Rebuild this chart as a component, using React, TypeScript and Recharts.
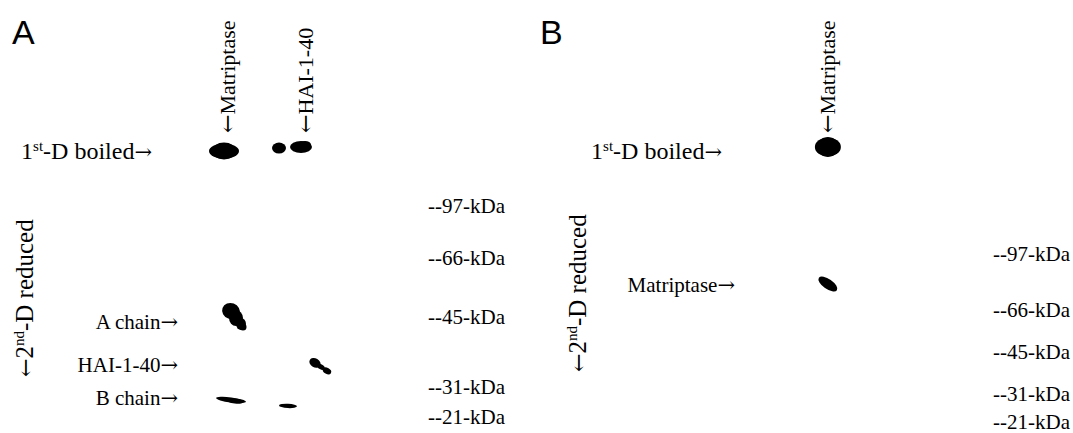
import React from "react";
import { ScatterChart, Scatter, XAxis, YAxis } from "recharts";

const SERIF = '"Liberation Serif", "Times New Roman", Times, serif';
const ARROW = '"DejaVu Serif", "DejaVu Sans", serif';
const SANS = '"Liberation Sans", Arial, Helvetica, sans-serif';

// x = position along the 1st-D strip (% of plot width), y = migration in 2nd-D (% of plot height)
const lanesA = [
  { name: "Matriptase", x: 20 },
  { name: "HAI-1-40", x: 51.2 },
];
const rowsA = [
  { name: "1st-D boiled", y: 5.7 },
  { name: "A chain", y: 62.8 },
  { name: "HAI-1-40", y: 77.2 },
  { name: "B chain", y: 88.3 },
];
const markersA = [
  { kda: 97, y: 23.8 },
  { kda: 66, y: 41.3 },
  { kda: 45, y: 61.1 },
  { kda: 31, y: 84.6 },
  { kda: 21, y: 94.6 },
];
const spotsA = [
  { id: "aMat1", x: 18.4, y: 5.4 },
  { id: "aHaiL", x: 40.4, y: 4.4 },
  { id: "aHaiR", x: 49.2, y: 4.0 },
  { id: "aChainA", x: 22.8, y: 61.1 },
  { id: "aHai2", x: 56.8, y: 77.5 },
  { id: "aChainB1", x: 21.2, y: 88.9 },
  { id: "aChainB2", x: 44.0, y: 90.9 },
];

const lanesB = [{ name: "Matriptase", x: 36.0 }];
const rowsB = [
  { name: "1st-D boiled", y: 5.7 },
  { name: "Matriptase", y: 50.3 },
];
const markersB = [
  { kda: 97, y: 39.9 },
  { kda: 66, y: 58.7 },
  { kda: 45, y: 72.8 },
  { kda: 31, y: 86.9 },
  { kda: 21, y: 96.3 },
];
const spotsB = [
  { id: "bMat1", x: 36.0, y: 4.0 },
  { id: "bMat2", x: 36.0, y: 50.0 },
];

// blob outlines: [dx, dy, rx, ry, rotation]
const SHAPES: Record<string, number[][]> = {
  aMat1: [[0, 0, 15, 7.5, 0], [0, 0, 12, 8.5, 0]],
  aHaiL: [[0, 0, 7, 5.5, 0]],
  aHaiR: [[0, 0, 11, 6, 0], [4, -2, 6, 4, 0]],
  aChainA: [[-4, -6, 9, 8, 20], [1, 1, 7, 8, 0], [6, 7, 5, 6, 0], [8, 10, 3.5, 3.5, 0]],
  aHai2: [[-5, -3, 6, 4.5, 30], [1, 1, 4, 2.5, 30], [7, 5, 4.5, 3, 30]],
  aChainB1: [[0, 0, 15, 2.5, 7], [4, 1, 9, 2.5, 7]],
  aChainB2: [[0, 0, 9, 2.2, 3]],
  bMat1: [[0, 0, 13, 9.5, 0], [0, 0, 11, 10, 0]],
  bMat2: [[0, 0, 11, 5, 35]],
};

const near = (a: number, b: number) => Math.abs(a - b) < 0.01;

const Blob = (props: any) => {
  const { cx, cy, payload } = props;
  const parts = SHAPES[payload.id] || [[0, 0, 5, 5, 0]];
  return (
    <g>
      {parts.map(([dx, dy, rx, ry, rot], i) => (
        <ellipse
          key={i}
          cx={cx + dx}
          cy={cy + dy}
          rx={rx}
          ry={ry}
          fill="#000"
          transform={`rotate(${rot} ${cx + dx} ${cy + dy})`}
        />
      ))}
    </g>
  );
};

const Empty = () => <g />;

const LaneTick = (props: any) => {
  const { x, y, payload, lanes } = props;
  const lane = lanes.find((l: any) => near(l.x, payload.value));
  if (!lane) return null;
  return (
    <text
      transform={`translate(${x},${y}) rotate(-90)`}
      x={0}
      y={7}
      textAnchor="start"
      fontFamily={SERIF}
      fontSize={22}
      fill="#000"
    >
      <tspan fontFamily={ARROW}>{"\u2190"}</tspan>
      <tspan>{lane.name}</tspan>
    </text>
  );
};

const RowTick = (props: any) => {
  const { x, y, payload, rows, firstShift } = props;
  const row = rows.find((r: any) => near(r.y, payload.value));
  if (!row) return null;
  const first = row.name.startsWith("1st");
  return (
    <text
      x={x + (first ? firstShift : 0)}
      y={y + 7}
      textAnchor="end"
      fontFamily={SERIF}
      fontSize={first ? 24 : 21}
      fill="#000"
    >
      {first ? (
        <>
          <tspan>1</tspan>
          <tspan fontSize={15} dy={-8}>st</tspan>
          <tspan dy={8}>-D boiled</tspan>
        </>
      ) : (
        <tspan>{row.name}</tspan>
      )}
      <tspan fontFamily={ARROW} fontSize={21}>{"\u2192"}</tspan>
    </text>
  );
};

const KdaTick = (props: any) => {
  const { x, y, payload, markers } = props;
  const m = markers.find((k: any) => near(k.y, payload.value));
  if (!m) return null;
  return (
    <text x={x} y={y + 7} textAnchor="start" fontFamily={SERIF} fontSize={21} fill="#000">
      {`--${m.kda}-kDa`}
    </text>
  );
};

const SideLabel = ({ sx, sy }: { sx: number; sy: number }) => (
  <text
    transform={`translate(${sx},${sy}) rotate(-90)`}
    x={0}
    y={8}
    textAnchor="start"
    fontFamily={SERIF}
    fontSize={25}
    fill="#000"
  >
    <tspan fontFamily={ARROW} fontSize={22}>{"\u2190"}</tspan>
    <tspan>2</tspan>
    <tspan fontSize={15} dy={-9}>nd</tspan>
    <tspan dy={9}>-D reduced</tspan>
  </text>
);

function GelPanel({ width, leftW, rightW, lanes, rows, markers, spots, firstShift, side }: any) {
  const markerPts = markers.map((m: any) => ({ x: 100, y: m.y }));
  return (
    <ScatterChart width={width} height={433} margin={{ top: 0, right: 0, bottom: 0, left: 0 }}>
      <XAxis
        xAxisId="lane"
        type="number"
        dataKey="x"
        orientation="top"
        domain={[0, 100]}
        ticks={lanes.map((l: any) => l.x)}
        height={135}
        axisLine={false}
        tickLine={false}
        tickSize={0}
        tickMargin={2}
        interval={0}
        tick={<LaneTick lanes={lanes} />}
      />
      <YAxis
        yAxisId="mig"
        type="number"
        dataKey="y"
        orientation="left"
        domain={[0, 100]}
        reversed
        width={leftW}
        ticks={rows.map((r: any) => r.y)}
        axisLine={false}
        tickLine={false}
        tickSize={0}
        tickMargin={0}
        interval={0}
        tick={<RowTick rows={rows} firstShift={firstShift} />}
        label={{ content: () => <SideLabel sx={side[0]} sy={side[1]} /> }}
      />
      <YAxis
        yAxisId="kda"
        type="number"
        dataKey="y"
        orientation="right"
        domain={[0, 100]}
        reversed
        width={rightW}
        ticks={markers.map((m: any) => m.y)}
        axisLine={false}
        tickLine={false}
        tickSize={0}
        tickMargin={0}
        interval={0}
        tick={<KdaTick markers={markers} />}
      />
      <Scatter xAxisId="lane" yAxisId="kda" data={markerPts} shape={Empty} isAnimationActive={false} />
      <Scatter xAxisId="lane" yAxisId="mig" data={spots} shape={Blob} isAnimationActive={false} />
    </ScatterChart>
  );
}

const letterStyle: React.CSSProperties = {
  position: "absolute",
  top: 15,
  fontFamily: SANS,
  fontSize: 34,
  lineHeight: "34px",
  color: "#000",
};

export default function App() {
  return (
    <div style={{ position: "absolute", left: 0, top: 0, width: 1073, height: 433, background: "#fff" }}>
      <div style={{ position: "absolute", left: 0, top: 0 }}>
        <GelPanel
          width={536}
          leftW={178}
          rightW={108}
          lanes={lanesA}
          rows={rowsA}
          markers={markersA}
          spots={spotsA}
          firstShift={-26}
          side={[25, 377]}
        />
      </div>
      <div style={{ position: "absolute", left: 536, top: 0 }}>
        <GelPanel
          width={537}
          leftW={199}
          rightW={80}
          lanes={lanesB}
          rows={rowsB}
          markers={markersB}
          spots={spotsB}
          firstShift={-13}
          side={[42, 372]}
        />
      </div>
      <div style={{ ...letterStyle, left: 12 }}>A</div>
      <div style={{ ...letterStyle, left: 540 }}>B</div>
    </div>
  );
}
